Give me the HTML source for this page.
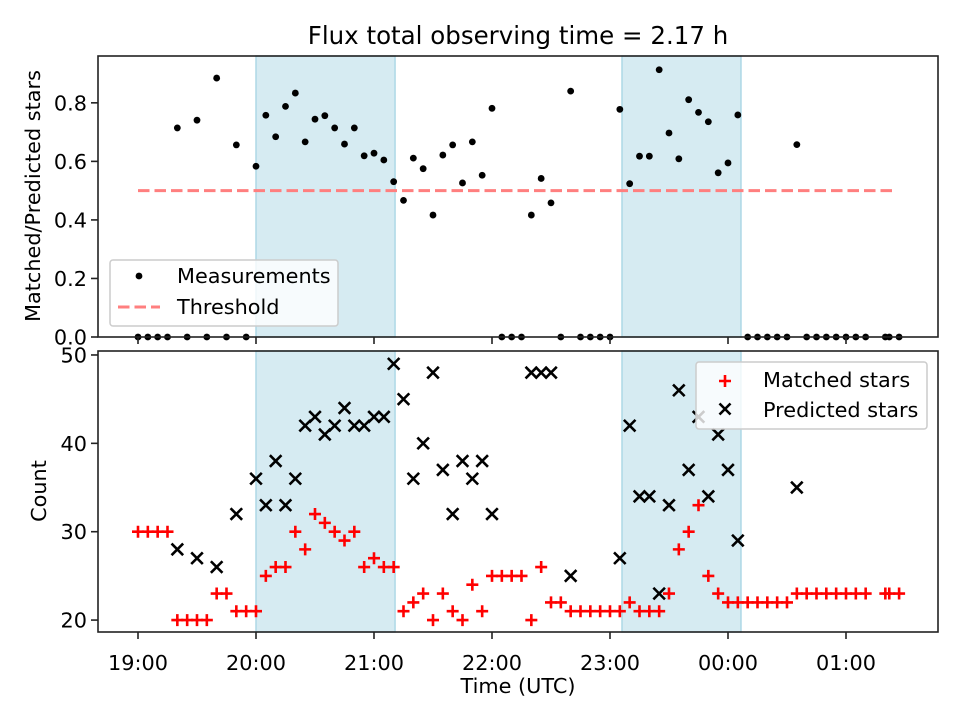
<!DOCTYPE html>
<html><head><meta charset="utf-8"><style>
body{margin:0;background:#fff}
svg text{font-family:"DejaVu Sans","Liberation Sans",sans-serif;fill:#000}
</style></head><body>
<svg id="chart" width="960" height="720" viewBox="0 0 960 720" xmlns="http://www.w3.org/2000/svg">
<rect width="960" height="720" fill="#fff"/>
<text x="518" y="44" font-size="24.5" text-anchor="middle">Flux total observing time = 2.17 h</text>
<g id="topPanel"></g><g id="botPanel"></g>
</svg>
<script>
// minutes after 19:00
const matchedTimes = [0,5,10,15,20,25,30,35,40,45,50,55,60,65,70,75,80,85,90,95,100,105,110,115,120,125,130,135,140,145,150,155,160,165,170,175,180,185,190,195,200,205,210,215,220,225,230,235,240,245,250,255,260,265,270,275,280,285,290,295,300,305,310,315,320,325,330,335,340,345,350,355,360,365,370,380,382,387];
const matchedValues = [30,30,30,30,20,20,20,20,23,23,21,21,21,25,26,26,30,28,32,31,30,29,30,26,27,26,26,21,22,23,20,23,21,20,24,21,25,25,25,25,20,26,22,22,21,21,21,21,21,21,22,21,21,21,23,28,30,33,25,23,22,22,22,22,22,22,22,23,23,23,23,23,23,23,23,23,23,23];
const predictedTimes = [20,30,40,50,60,65,70,75,80,85,90,95,100,105,110,115,120,125,130,135,140,145,150,155,160,165,170,175,180,200,205,210,220,245,250,255,260,265,270,275,280,285,290,295,300,305,335];
const predictedValues = [28,27,26,32,36,33,38,33,36,42,43,41,42,44,42,42,43,43,49,45,36,40,48,37,32,38,36,38,32,48,48,48,25,27,42,34,34,23,33,46,37,43,34,41,37,29,35];
const shadedSpans = [[60,130.7],[246.1,306.6]];
const threshold = 0.5, thresholdEnd = 385;
const topTicks = [0,0.2,0.4,0.6,0.8];
const topTickLabels = ["0.0","0.2","0.4","0.6","0.8"];
const botTicks = [20,30,40,50];
const xTicks = [0,60,120,180,240,300,360];
const xTickLabels = ["19:00","20:00","21:00","22:00","23:00","00:00","01:00"];

const NS="http://www.w3.org/2000/svg";
const L=98,R=938, T1=56,B1=337, T2=351,B2=632;
const FS=20.8;
const X=t=>138+t*118/60;
const Y1=v=>B1-v*(B1-T1)/0.96;
const Y2=v=>B2-(v-18.65)*(B2-T2)/(50.45-18.65);
function mk(p,tag,a){const e=document.createElementNS(NS,tag);for(const k in a)e.setAttribute(k,a[k]);p.appendChild(e);return e;}
const gTop=document.getElementById('topPanel'), gBot=document.getElementById('botPanel');

function spans(g,T,B){shadedSpans.forEach(s=>{const r=mk(g,'rect',{x:X(s[0]),y:T,width:X(s[1])-X(s[0]),height:B-T,fill:'#add8e6','fill-opacity':0.5,stroke:'#add8e6','stroke-width':1.5});

});}
spans(gTop,T1,B1); spans(gBot,T2,B2);

const th=mk(gTop,'line',{x1:X(0),x2:X(thresholdEnd),y1:Y1(threshold),y2:Y1(threshold),stroke:'#ff7f7f','stroke-width':3,'stroke-dasharray':'11.5,5'});



matchedTimes.forEach((t,i)=>{const j=predictedTimes.indexOf(t);const r=j>=0?matchedValues[i]/predictedValues[j]:0;
const c=mk(gTop,'circle',{cx:X(t),cy:Y1(r),r:3.4,fill:'#000'});

});

predictedTimes.forEach((t,i)=>{const x=X(t),y=Y2(predictedValues[i]),s=5.8;
const p=mk(gBot,'path',{d:`M${x-s},${y-s}L${x+s},${y+s}M${x-s},${y+s}L${x+s},${y-s}`,stroke:'#000','stroke-width':2.6});

});
matchedTimes.forEach((t,i)=>{const x=X(t),y=Y2(matchedValues[i]),s=6;
const p=mk(gBot,'path',{d:`M${x-s},${y}L${x+s},${y}M${x},${y-s}L${x},${y+s}`,stroke:'#ff0000','stroke-width':2.6});

});

[[T1,B1,gTop],[T2,B2,gBot]].forEach(a=>{const f=mk(a[2],'rect',{x:L,y:a[0],width:R-L,height:a[1]-a[0],fill:'none',stroke:'#222','stroke-width':1.6});

});

topTicks.forEach((v,i)=>{const y=Y1(v);mk(gTop,'line',{x1:L-7,x2:L,y1:y,y2:y,stroke:'#222','stroke-width':1.6});
const tx=mk(gTop,'text',{x:L-11,y:y+7.5,'font-size':FS,'text-anchor':'end'});tx.textContent=topTickLabels[i];

});
botTicks.forEach(v=>{const y=Y2(v);mk(gBot,'line',{x1:L-7,x2:L,y1:y,y2:y,stroke:'#222','stroke-width':1.6});
const tx=mk(gBot,'text',{x:L-11,y:y+7.5,'font-size':FS,'text-anchor':'end'});tx.textContent=String(v);

});
xTicks.forEach((t,i)=>{const x=X(t);mk(gTop,'line',{x1:x,x2:x,y1:B1,y2:B1+7,stroke:'#222','stroke-width':1.6});
mk(gBot,'line',{x1:x,x2:x,y1:B2,y2:B2+7,stroke:'#222','stroke-width':1.6});
const tx=mk(gBot,'text',{x:x,y:B2+38,'font-size':FS,'text-anchor':'middle'});tx.textContent=xTickLabels[i];

});

let tl;
tl=mk(gBot,'text',{x:518,y:693,'font-size':FS,'text-anchor':'middle'});tl.textContent='Time (UTC)';


tl=mk(gTop,'text',{x:40,y:196,'font-size':FS,'text-anchor':'middle',transform:'rotate(-90 40 196)'});tl.textContent='Matched/Predicted stars';


tl=mk(gBot,'text',{x:46,y:491,'font-size':FS,'text-anchor':'middle',transform:'rotate(-90 46 491)'});tl.textContent='Count';



let lg=mk(gTop,'g',{});


mk(lg,'rect',{x:110,y:260,width:228,height:66,rx:3,fill:'#fff','fill-opacity':0.8,stroke:'#ccc','stroke-width':1.5});
mk(lg,'circle',{cx:139,cy:276,r:3.4,fill:'#000'});
mk(lg,'line',{x1:118,x2:160,y1:307,y2:307,stroke:'#ff7f7f','stroke-width':3,'stroke-dasharray':'11.5,5'});
tl=mk(lg,'text',{x:177,y:283,'font-size':FS});tl.textContent='Measurements';
tl=mk(lg,'text',{x:177,y:314,'font-size':FS});tl.textContent='Threshold';
lg=mk(gBot,'g',{});


mk(lg,'rect',{x:696,y:362,width:231,height:67,rx:3,fill:'#fff','fill-opacity':0.8,stroke:'#ccc','stroke-width':1.5});
mk(lg,'path',{d:'M719,381L731,381M725,375L725,387',stroke:'#ff0000','stroke-width':2.6});
mk(lg,'path',{d:'M719.5,403.5L730.5,414.5M719.5,414.5L730.5,403.5',stroke:'#000','stroke-width':2.6});
tl=mk(lg,'text',{x:763,y:387,'font-size':FS});tl.textContent='Matched stars';
tl=mk(lg,'text',{x:763,y:417,'font-size':FS});tl.textContent='Predicted stars';
</script>
</body></html>
